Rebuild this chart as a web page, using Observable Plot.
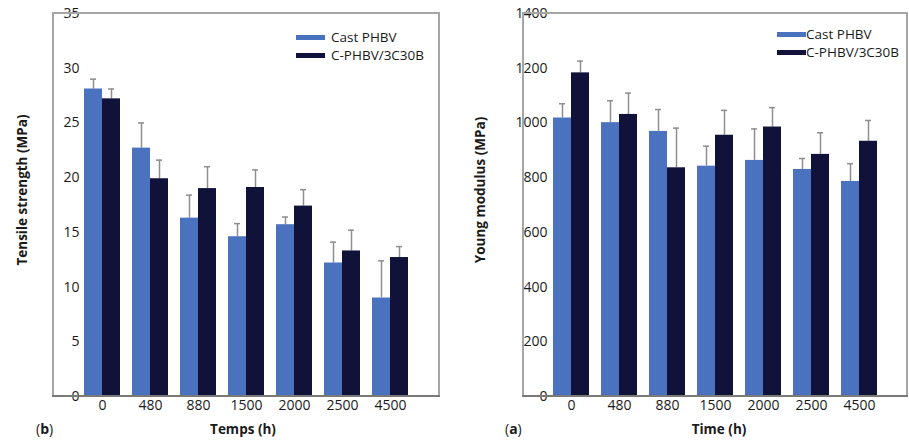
<!DOCTYPE html>
<html>
<head>
<meta charset="utf-8">
<script src="https://cdn.jsdelivr.net/npm/d3@7"></script>
<script src="https://cdn.jsdelivr.net/npm/@observablehq/plot@0.6"></script>
<style>
  html, body { margin: 0; padding: 0; background: #fff; }
  #wrap { position: relative; width: 909px; height: 440px; overflow: hidden; font-family: "Open Sans", sans-serif; color: #1a1a1a; }
  .panel { position: absolute; top: 0; }
  .legend { position: absolute; font-size: 13.5px; line-height: 17.5px; }
  .legend .row { display: flex; align-items: center; white-space: nowrap; height: 17.5px; }
  .legend .sw { display: inline-block; width: 29px; height: 5px; }
  .tag { position: absolute; font-size: 14px; line-height: 18px; }
</style>
</head>
<body>
<div id="wrap">
  <div class="panel" id="left" style="left:0px"></div>
  <div class="panel" id="right" style="left:455px"></div>
  <div class="legend" id="legL" style="left:296px; top:29px"></div>
  <div class="legend" id="legR" style="left:777px; top:26px"></div>
  <div class="tag" style="left:36px; top:420px">(<b>b</b>)</div>
  <div class="tag" style="left:505px; top:420px">(<b>a</b>)</div>
</div>
<script>
// ---- data ----
const times = ["0", "480", "880", "1500", "2000", "2500", "4500"];
const seriesNames = ["Cast PHBV", "C-PHBV/3C30B"];
const seriesColors = ["#4b72be", "#10123a"];

const tensileCast    = [28.1, 22.7, 16.3, 14.6, 15.7, 12.2, 9.0];
const tensileCastErr = [0.9, 2.3, 2.1, 1.2, 0.7, 1.9, 3.4];
const tensileComp    = [27.2, 19.9, 19.0, 19.1, 17.4, 13.3, 12.7];
const tensileCompErr = [0.9, 1.7, 2.0, 1.6, 1.5, 1.9, 1.0];

const modulusCast    = [1018, 1001, 969, 842, 863, 830, 786];
const modulusCastErr = [52, 80, 80, 73, 115, 40, 65];
const modulusComp    = [1183, 1031, 836, 955, 985, 885, 933];
const modulusCompErr = [43, 78, 145, 91, 71, 79, 76];

const tensileTicks = [0, 5, 10, 15, 20, 25, 30, 35];
const modulusTicks = [0, 200, 400, 600, 800, 1000, 1200, 1400];

function rows(a, ae, b, be) {
  const out = [];
  times.forEach((t, i) => {
    out.push({time: t, series: seriesNames[0], value: a[i], top: a[i] + ae[i]});
    out.push({time: t, series: seriesNames[1], value: b[i], top: b[i] + be[i]});
  });
  return out;
}

function makePanel(data, opts) {
  const W = opts.width, H = 440, MT = 13, MB = 44;
  const plot = Plot.plot({
    width: W, height: H,
    marginLeft: opts.ml, marginRight: opts.mr, marginTop: MT, marginBottom: MB,
    style: {fontFamily: "'Open Sans', sans-serif", fontSize: "14px", color: "#1a1a1a", background: "transparent", overflow: "visible"},
    fx: {domain: times, paddingInner: 0.24, paddingOuter: 0.61, tickSize: 0, tickPadding: 4, label: null},
    x: {domain: seriesNames, axis: null, padding: 0},
    y: {domain: opts.ydomain, ticks: opts.yticks, tickFormat: d3.format("d"), tickSize: 0, tickPadding: opts.tp, label: null},
    color: {domain: seriesNames, range: seriesColors},
    marks: [
      Plot.ruleX(data, {fx: "time", x: "series", y1: "value", y2: "top", stroke: "#8e8e8e", strokeWidth: 1.5}),
      Plot.tickY(data, {fx: "time", x: "series", y: "top", stroke: "#8e8e8e", strokeWidth: 1.5, insetLeft: 6, insetRight: 6}),
      Plot.barY(data, {fx: "time", x: "series", y: "value", fill: "series"})
    ]
  });
  const svg = d3.select(plot);
  svg.append("rect").attr("x", opts.ml).attr("y", MT).attr("width", W - opts.ml - opts.mr).attr("height", H - MT - MB)
     .attr("fill", "none").attr("stroke", "#a6a6a6").attr("stroke-width", 2);
  svg.append("line").attr("x1", opts.ml - 1).attr("x2", W - opts.mr + 1).attr("y1", H - MB).attr("y2", H - MB)
     .attr("stroke", "#7a7a7a").attr("stroke-width", 2);
  // axis titles
  svg.append("text").text(opts.ylabel)
     .attr("transform", `translate(${opts.ylx},190) rotate(-90)`)
     .attr("text-anchor", "middle").attr("dominant-baseline", "central")
     .attr("font-family", "'Open Sans', sans-serif").attr("font-size", "13.5px").attr("font-weight", "bold").attr("fill", "#1a1a1a");
  svg.append("text").text(opts.xlabel)
     .attr("x", opts.xlx).attr("y", 429)
     .attr("text-anchor", "middle").attr("dominant-baseline", "central")
     .attr("font-family", "'Open Sans', sans-serif").attr("font-size", "13.5px").attr("font-weight", "bold").attr("fill", "#1a1a1a");
  return plot;
}

document.getElementById("left").appendChild(makePanel(
  rows(tensileCast, tensileCastErr, tensileComp, tensileCompErr),
  {width: 455, ml: 53, mr: 16, tp: 5, ydomain: [0, 35], yticks: tensileTicks,
   ylabel: "Tensile strength (MPa)", ylx: 22, xlabel: "Temps (h)", xlx: 243}));
document.getElementById("right").appendChild(makePanel(
  rows(modulusCast, modulusCastErr, modulusComp, modulusCompErr),
  {width: 454, ml: 68, mr: 2, tp: 6, ydomain: [0, 1400], yticks: modulusTicks,
   ylabel: "Young modulus (MPa)", ylx: 25, xlabel: "Time (h)", xlx: 264}));

function legend(id, gap) {
  const el = document.getElementById(id);
  seriesNames.forEach((n, i) => {
    const r = document.createElement("div");
    r.className = "row";
    r.innerHTML = `<span class="sw" style="background:${seriesColors[i]};margin-right:${gap}px"></span><span>${n}</span>`;
    el.appendChild(r);
  });
}
legend("legL", 6);
legend("legR", 0);
</script>
</body>
</html>
